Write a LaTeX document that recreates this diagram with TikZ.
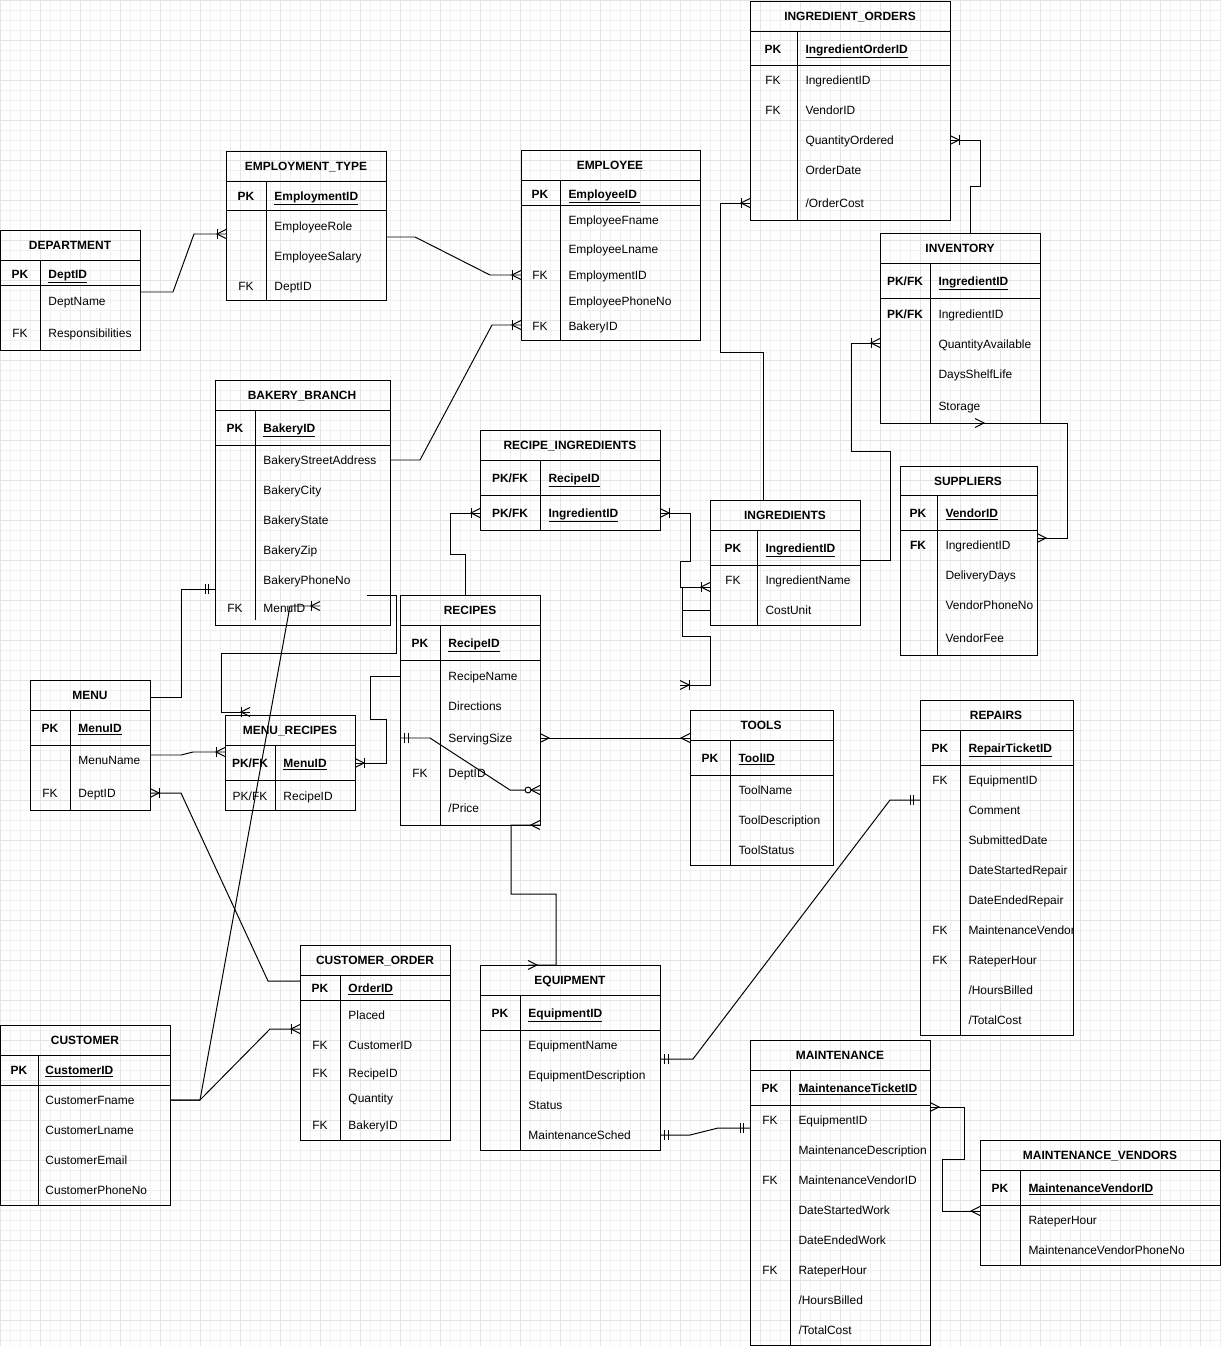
\documentclass[tikz,border=0pt]{standalone}
\usepackage{fontspec}
\setmainfont{Liberation Sans}
\usetikzlibrary{fit,decorations.markings}
\definecolor{gridminor}{HTML}{F1F1F1}
\definecolor{gridmajor}{HTML}{E4E4E4}

\newcommand\crowft[1]{\draw (0pt,3.2pt) -- (#1*6.4pt,0pt) -- (0pt,-3.2pt);}
\newcommand\erbar[1]{\draw (#1,-3.6pt) -- (#1,3.6pt);}

\tikzset{
	erm/.style 2 args={postaction={decorate,decoration={markings,mark=at position #1 with {#2}}}},
	many end/.style={erm={1}{\crowft{-1}}},
	many start/.style={erm={0}{\crowft{1}}},
	onemany end/.style={erm={1}{\crowft{-1}\erbar{-6.4pt}}},
	onemany start/.style={erm={0}{\crowft{1}\erbar{6.4pt}}},
	mandone end/.style={erm={1}{\erbar{-4.3pt}\erbar{-7.1pt}}},
	mandone start/.style={erm={0}{\erbar{3pt}\erbar{6pt}}},
	zeromany end/.style={erm={1}{\crowft{-1}\draw[fill=white] (-8.5pt,0pt) circle (2.1pt);}},
}

\begin{document}
\fontsize{8.5pt}{10pt}\selectfont
\begin{tikzpicture}[x=0.025cm, y=-0.025cm, line width=0.7pt,
	tbl/.style={draw, inner sep=0pt, outer sep=0pt},
	txt/.style={inner sep=0pt, text height=6pt, text depth=0pt},
	ttl/.style={txt, font=\bfseries},
	ky/.style={txt},
	kyb/.style={txt, font=\bfseries},
	fd/.style={txt, anchor=west},
	fdpk/.style={fd, font=\bfseries}]
	\useasboundingbox (0,0) rectangle (1221,1346);

	% grid
	\foreach \gx in {0,10,...,1220} \draw[gridminor, line width=0.5pt] (\gx,0) -- (\gx,1346);
	\foreach \gy in {0,10,...,1340} \draw[gridminor, line width=0.5pt] (0,\gy) -- (1221,\gy);
	\foreach \gx in {0,40,...,1200} \draw[gridmajor, line width=0.5pt] (\gx,0) -- (\gx,1346);
	\foreach \gy in {0,40,...,1320} \draw[gridmajor, line width=0.5pt] (0,\gy) -- (1221,\gy);

	% DEPARTMENT
	\node[tbl, fit={(0,230) (140,350)}] (dept) {};
	\draw (0,260) -- (140,260) (0,285) -- (140,285) (40,260) -- (40,350);
	\path
		(70,245) node[ttl] (dept-t) {DEPARTMENT}
		(20,274) node[kyb] (dept-k1) {PK}
		(48,274) node[fdpk] (dept-f1) {\underline{DeptID}}
		(48,301) node[fd] (dept-f2) {DeptName}
		(20,333) node[ky] (dept-k3) {FK}
		(48,333) node[fd] (dept-f3) {Responsibilities}
	;

	% EMPLOYMENT_TYPE
	\node[tbl, fit={(226,151) (386,300)}] (etype) {};
	\draw (226,181) -- (386,181) (226,210) -- (386,210) (266,181) -- (266,300);
	\path
		(306,166) node[ttl] (etype-t) {EMPLOYMENT\_TYPE}
		(246,196) node[kyb] (etype-k1) {PK}
		(274,196) node[fdpk] (etype-f1) {\underline{EmploymentID}}
		(274,226) node[fd] (etype-f2) {EmployeeRole}
		(274,256) node[fd] (etype-f3) {EmployeeSalary}
		(246,286) node[ky] (etype-k4) {FK}
		(274,286) node[fd] (etype-f4) {DeptID}
	;

	% EMPLOYEE
	\node[tbl, fit={(521,150) (700,340)}] (emp) {};
	\draw (521,180) -- (700,180) (521,205) -- (700,205) (560,180) -- (560,340);
	\path
		(610,165) node[ttl] (emp-t) {EMPLOYEE}
		(540,194) node[kyb] (emp-k1) {PK}
		(568,194) node[fdpk] (emp-f1) {\underline{EmployeeID\ }}
		(568,220) node[fd] (emp-f2) {EmployeeFname}
		(568,249) node[fd] (emp-f3) {EmployeeLname}
		(540,275) node[ky] (emp-k4) {FK}
		(568,275) node[fd] (emp-f4) {EmploymentID}
		(568,301) node[fd] (emp-f5) {EmployeePhoneNo}
		(540,326) node[ky] (emp-k6) {FK}
		(568,326) node[fd] (emp-f6) {BakeryID}
	;

	% INGREDIENT_ORDERS
	\node[tbl, fit={(750,1) (950,220)}] (iord) {};
	\draw (750,31) -- (950,31) (750,65) -- (950,65) (797,31) -- (797,220);
	\path
		(850,16) node[ttl] (iord-t) {INGREDIENT\_ORDERS}
		(773,49) node[kyb] (iord-k1) {PK}
		(805,49) node[fdpk] (iord-f1) {\underline{IngredientOrderID}}
		(773,80) node[ky] (iord-k2) {FK}
		(805,80) node[fd] (iord-f2) {IngredientID}
		(773,110) node[ky] (iord-k3) {FK}
		(805,110) node[fd] (iord-f3) {VendorID}
		(805,140) node[fd] (iord-f4) {QuantityOrdered}
		(805,170) node[fd] (iord-f5) {OrderDate}
		(805,203) node[fd] (iord-f6) {/OrderCost}
	;

	% INVENTORY
	\node[tbl, fit={(880,233) (1040,423)}] (inv) {};
	\draw (880,263) -- (1040,263) (880,298) -- (1040,298) (930,263) -- (930,423);
	\path
		(960,248) node[ttl] (inv-t) {INVENTORY}
		(905,281) node[kyb] (inv-k1) {PK/FK}
		(938,281) node[fdpk] (inv-f1) {\underline{IngredientID}}
		(905,314) node[kyb] (inv-k2) {PK/FK}
		(938,314) node[fd] (inv-f2) {IngredientID}
		(938,344) node[fd] (inv-f3) {QuantityAvailable}
		(938,374) node[fd] (inv-f4) {DaysShelfLife}
		(938,406) node[fd] (inv-f5) {Storage}
	;

	% SUPPLIERS
	\node[tbl, fit={(900,466) (1037,655)}] (sup) {};
	\draw (900,495) -- (1037,495) (900,530) -- (1037,530) (937,495) -- (937,655);
	\path
		(968,481) node[ttl] (sup-t) {SUPPLIERS}
		(918,513) node[kyb] (sup-k1) {PK}
		(945,513) node[fdpk] (sup-f1) {\underline{VendorID}}
		(918,545) node[kyb] (sup-k2) {FK}
		(945,545) node[fd] (sup-f2) {IngredientID}
		(945,575) node[fd] (sup-f3) {DeliveryDays}
		(945,605) node[fd] (sup-f4) {VendorPhoneNo}
		(945,638) node[fd] (sup-f5) {VendorFee}
	;

	% BAKERY_BRANCH
	\node[tbl, fit={(215,380) (390,625)}] (bak) {};
	\draw (215,410) -- (390,410) (215,445) -- (390,445) (255,410) -- (255,620);
	\path
		(302,395) node[ttl] (bak-t) {BAKERY\_BRANCH}
		(235,428) node[kyb] (bak-k1) {PK}
		(263,428) node[fdpk] (bak-f1) {\underline{BakeryID}}
		(263,460) node[fd] (bak-f2) {BakeryStreetAddress}
		(263,490) node[fd] (bak-f3) {BakeryCity}
		(263,520) node[fd] (bak-f4) {BakeryState}
		(263,550) node[fd] (bak-f5) {BakeryZip}
		(263,580) node[fd] (bak-f6) {BakeryPhoneNo}
		(235,608) node[ky] (bak-k7) {FK}
		(263,608) node[fd] (bak-f7) {MenuID}
	;

	% RECIPE_INGREDIENTS
	\node[tbl, fit={(480,430) (660,530)}] (rcing) {};
	\draw (480,460) -- (660,460) (480,495) -- (660,495) (540,460) -- (540,530);
	\path
		(570,445) node[ttl] (rcing-t) {RECIPE\_INGREDIENTS}
		(510,478) node[kyb] (rcing-k1) {PK/FK}
		(548,478) node[fdpk] (rcing-f1) {\underline{RecipeID}}
		(510,513) node[kyb] (rcing-k2) {PK/FK}
		(548,513) node[fdpk] (rcing-f2) {\underline{IngredientID}}
	;

	% RECIPES
	\node[tbl, fit={(400,595) (540,825)}] (rcp) {};
	\draw (400,625) -- (540,625) (400,660) -- (540,660) (440,625) -- (440,825);
	\path
		(470,610) node[ttl] (rcp-t) {RECIPES}
		(420,643) node[kyb] (rcp-k1) {PK}
		(448,643) node[fdpk] (rcp-f1) {\underline{RecipeID}}
		(448,676) node[fd] (rcp-f2) {RecipeName}
		(448,706) node[fd] (rcp-f3) {Directions}
		(448,738) node[fd] (rcp-f4) {ServingSize}
		(420,773) node[ky] (rcp-k5) {FK}
		(448,773) node[fd] (rcp-f5) {DeptID}
		(448,808) node[fd] (rcp-f6) {/Price}
	;

	% INGREDIENTS
	\node[tbl, fit={(710,500) (860,625)}] (ing) {};
	\draw (710,530) -- (860,530) (710,565) -- (860,565) (757,530) -- (757,625);
	\path
		(785,515) node[ttl] (ing-t) {INGREDIENTS}
		(733,548) node[kyb] (ing-k1) {PK}
		(765,548) node[fdpk] (ing-f1) {\underline{IngredientID}}
		(733,580) node[ky] (ing-k2) {FK}
		(765,580) node[fd] (ing-f2) {IngredientName}
		(765,610) node[fd] (ing-f3) {CostUnit}
	;

	% MENU
	\node[tbl, fit={(30,680) (150,810)}] (menu) {};
	\draw (30,710) -- (150,710) (30,745) -- (150,745) (70,710) -- (70,810);
	\path
		(90,695) node[ttl] (menu-t) {MENU}
		(50,728) node[kyb] (menu-k1) {PK}
		(78,728) node[fdpk] (menu-f1) {\underline{MenuID}}
		(78,760) node[fd] (menu-f2) {MenuName}
		(50,793) node[ky] (menu-k3) {FK}
		(78,793) node[fd] (menu-f3) {DeptID}
	;

	% MENU_RECIPES
	\node[tbl, fit={(225,715) (355,810)}] (mrcp) {};
	\draw (225,745) -- (355,745) (225,780) -- (355,780) (275,745) -- (275,810);
	\path
		(290,730) node[ttl] (mrcp-t) {MENU\_RECIPES}
		(250,763) node[kyb] (mrcp-k1) {PK/FK}
		(283,763) node[fdpk] (mrcp-f1) {\underline{MenuID}}
		(250,796) node[ky] (mrcp-k2) {PK/FK}
		(283,796) node[fd] (mrcp-f2) {RecipeID}
	;

	% TOOLS
	\node[tbl, fit={(690,710) (833,865)}] (tool) {};
	\draw (690,740) -- (833,740) (690,775) -- (833,775) (730,740) -- (730,865);
	\path
		(761,725) node[ttl] (tool-t) {TOOLS}
		(710,758) node[kyb] (tool-k1) {PK}
		(738,758) node[fdpk] (tool-f1) {\underline{ToolID}}
		(738,790) node[fd] (tool-f2) {ToolName}
		(738,820) node[fd] (tool-f3) {ToolDescription}
		(738,850) node[fd] (tool-f4) {ToolStatus}
	;

	% REPAIRS
	\node[tbl, fit={(920,700) (1073,1035)}] (rep) {};
	\draw (920,730) -- (1073,730) (920,765) -- (1073,765) (960,730) -- (960,1035);
	\path
		(996,715) node[ttl] (rep-t) {REPAIRS}
		(940,748) node[kyb] (rep-k1) {PK}
		(968,748) node[fdpk] (rep-f1) {\underline{RepairTicketID}}
		(940,780) node[ky] (rep-k2) {FK}
		(968,780) node[fd] (rep-f2) {EquipmentID}
		(968,810) node[fd] (rep-f3) {Comment}
		(968,840) node[fd] (rep-f4) {SubmittedDate}
		(968,870) node[fd] (rep-f5) {DateStartedRepair}
		(968,900) node[fd] (rep-f6) {DateEndedRepair}
		(940,930) node[ky] (rep-k7) {FK}
		(940,960) node[ky] (rep-k8) {FK}
		(968,960) node[fd] (rep-f8) {RateperHour}
		(968,990) node[fd] (rep-f9) {/HoursBilled}
		(968,1020) node[fd] (rep-f10) {/TotalCost}
	;
	\begin{scope}
		\clip (920,700) rectangle (1072,1035);
		\path (968,930) node[fd] (rep-f7) {MaintenanceVendorID};
	\end{scope}

	% CUSTOMER_ORDER
	\node[tbl, fit={(300,945) (450,1140)}] (cord) {};
	\draw (300,975) -- (450,975) (300,1000) -- (450,1000) (340,975) -- (340,1140);
	\path
		(375,960) node[ttl] (cord-t) {CUSTOMER\_ORDER}
		(320,988) node[kyb] (cord-k1) {PK}
		(348,988) node[fdpk] (cord-f1) {\underline{OrderID}}
		(348,1015) node[fd] (cord-f2) {Placed}
		(320,1045) node[ky] (cord-k3) {FK}
		(348,1045) node[fd] (cord-f3) {CustomerID}
		(320,1073) node[ky] (cord-k4) {FK}
		(348,1073) node[fd] (cord-f4) {RecipeID}
		(348,1098) node[fd] (cord-f5) {Quantity}
		(320,1125) node[ky] (cord-k6) {FK}
		(348,1125) node[fd] (cord-f6) {BakeryID}
	;

	% CUSTOMER
	\node[tbl, fit={(0,1025) (170,1205)}] (cust) {};
	\draw (0,1055) -- (170,1055) (0,1085) -- (170,1085) (38,1055) -- (38,1205);
	\path
		(85,1040) node[ttl] (cust-t) {CUSTOMER}
		(19,1070) node[kyb] (cust-k1) {PK}
		(45,1070) node[fdpk] (cust-f1) {\underline{CustomerID}}
		(45,1100) node[fd] (cust-f2) {CustomerFname}
		(45,1130) node[fd] (cust-f3) {CustomerLname}
		(45,1160) node[fd] (cust-f4) {CustomerEmail}
		(45,1190) node[fd] (cust-f5) {CustomerPhoneNo}
	;

	% EQUIPMENT
	\node[tbl, fit={(480,965) (660,1150)}] (eqp) {};
	\draw (480,995) -- (660,995) (480,1030) -- (660,1030) (520,995) -- (520,1150);
	\path
		(570,980) node[ttl] (eqp-t) {EQUIPMENT}
		(500,1013) node[kyb] (eqp-k1) {PK}
		(528,1013) node[fdpk] (eqp-f1) {\underline{EquipmentID}}
		(528,1045) node[fd] (eqp-f2) {EquipmentName}
		(528,1075) node[fd] (eqp-f3) {EquipmentDescription}
		(528,1105) node[fd] (eqp-f4) {Status}
		(528,1135) node[fd] (eqp-f5) {MaintenanceSched}
	;

	% MAINTENANCE
	\node[tbl, fit={(750,1040) (930,1345)}] (mnt) {};
	\draw (750,1070) -- (930,1070) (750,1105) -- (930,1105) (790,1070) -- (790,1345);
	\path
		(840,1055) node[ttl] (mnt-t) {MAINTENANCE}
		(770,1088) node[kyb] (mnt-k1) {PK}
		(798,1088) node[fdpk] (mnt-f1) {\underline{MaintenanceTicketID}}
		(770,1120) node[ky] (mnt-k2) {FK}
		(798,1120) node[fd] (mnt-f2) {EquipmentID}
		(798,1150) node[fd] (mnt-f3) {MaintenanceDescription}
		(770,1180) node[ky] (mnt-k4) {FK}
		(798,1180) node[fd] (mnt-f4) {MaintenanceVendorID}
		(798,1210) node[fd] (mnt-f5) {DateStartedWork}
		(798,1240) node[fd] (mnt-f6) {DateEndedWork}
		(770,1270) node[ky] (mnt-k7) {FK}
		(798,1270) node[fd] (mnt-f7) {RateperHour}
		(798,1300) node[fd] (mnt-f8) {/HoursBilled}
		(798,1330) node[fd] (mnt-f9) {/TotalCost}
	;

	% MAINTENANCE_VENDORS
	\node[tbl, fit={(980,1140) (1220,1265)}] (mven) {};
	\draw (980,1170) -- (1220,1170) (980,1205) -- (1220,1205) (1020,1170) -- (1020,1265);
	\path
		(1100,1155) node[ttl] (mven-t) {MAINTENANCE\_VENDORS}
		(1000,1188) node[kyb] (mven-k1) {PK}
		(1028,1188) node[fdpk] (mven-f1) {\underline{MaintenanceVendorID}}
		(1028,1220) node[fd] (mven-f2) {RateperHour}
		(1028,1250) node[fd] (mven-f3) {MaintenanceVendorPhoneNo}
	;

	% free ends
	\path
		(367,595) coordinate (bakmr)
		(250,712) coordinate (mrtop)
		(320,606) coordinate (bakmenu)
		(680,685) coordinate (ingfree)
	;

	% relationships
	\draw[onemany end] (dept.east |- 0,292) -- (173,292) -- (194,234) -- (etype.west |- 0,234);
	\draw[onemany end] (etype.east |- 0,237) -- (415,237) -- (490,275) -- (emp.west |- 0,275);
	\draw[onemany end] (bak.east |- 0,460) -- (420,460) -- (492,325) -- (emp.west |- 0,325);
	\draw[onemany end] (ing.north -| 763,0) -- (763,352) -- (720,352) -- (720,203) -- (iord.west |- 0,203);
	\draw[onemany end] (inv.north -| 970,0) -- (970,186) -- (980,186) -- (980,140) -- (iord.east |- 0,140);
	\draw[onemany end] (ing.east |- 0,560) -- (890,560) -- (890,451) -- (851,451) -- (851,343) -- (inv.west |- 0,343);
	\draw[many start, many end] (inv.south -| 975,0) -- (1067,423) -- (1067,538) -- (sup.east |- 0,538);
	\draw[onemany end] (rcp.north -| 465,0) -- (465,554) -- (450,554) -- (450,513) -- (rcing.west |- 0,513);
	\draw[onemany start, onemany end] (rcing.east |- 0,513) -- (690,513) -- (690,561) -- (680,561) -- (680,587) -- (ing.west |- 0,587);
	\draw[onemany end] (ing.west |- 0,610) -- (682,610) -- (682,587) -- (682,636) -- (710,636) -- (710,685) -- (ingfree);
	\draw[mandone end] (menu.east |- 0,697) -- (181,697) -- (181,589) -- (bak.west |- 0,589);
	\draw[onemany end] (bakmr) -- (396,595) -- (396,653) -- (221,653) -- (221,712) -- (mrtop);
	\draw[onemany end] (menu.east |- 0,755) -- (181,755) -- (193,752) -- (mrcp.west |- 0,752);
	\draw[onemany end] (rcp.west |- 0,676) -- (370,676) -- (370,719) -- (386,719) -- (386,763) -- (mrcp.east |- 0,763);
	\draw[onemany end] (cord.west |- 0,981) -- (268,981) -- (181,793) -- (menu.east |- 0,793);
	\draw[onemany end] (cust.east |- 0,1100) -- (200,1100) -- (270,1029) -- (cord.west |- 0,1029);
	\draw[onemany end] (cust.east |- 0,1100) -- (200,1100) -- (290,606) -- (bakmenu);
	\draw[many start, many end] (rcp.east |- 0,738) -- (tool.west |- 0,738);
	\draw[mandone start, zeromany end] (rcp.west |- 0,738) -- (430,738) -- (510,790) -- (rcp.east |- 0,790);
	\draw[many start, many end] (rcp.east |- 0,825) -- (511,825) -- (511,894) -- (556,894) -- (556,965) -- (eqp.north -| 528,0);
	\draw[mandone start, mandone end] (eqp.east |- 0,1059) -- (693,1059) -- (890,800) -- (rep.west |- 0,800);
	\draw[mandone start, mandone end] (eqp.east |- 0,1135) -- (690,1135) -- (718,1128) -- (mnt.west |- 0,1128);
	\draw[many start, many end] (mnt.east |- 0,1107) -- (964,1107) -- (964,1159) -- (942,1159) -- (942,1211) -- (mven.west |- 0,1211);
\end{tikzpicture}
\end{document}
